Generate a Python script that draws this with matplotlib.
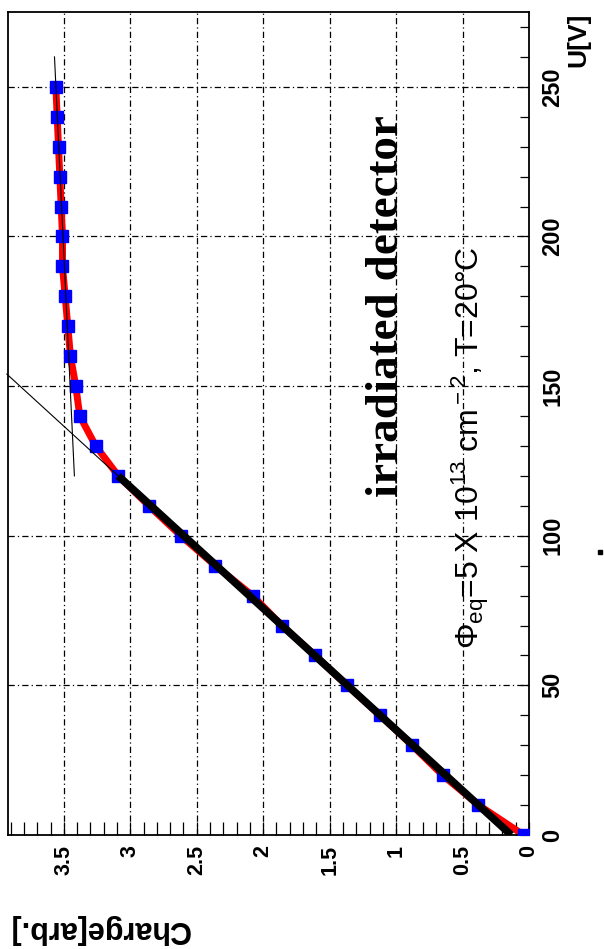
import numpy as np
import matplotlib.pyplot as plt
from matplotlib.ticker import MultipleLocator
from matplotlib.lines import Line2D

# Measured points: bias voltage [V] and collected charge [arb.]
voltage = [0, 10, 20, 30, 40, 50, 60, 70, 80, 90, 100, 110, 120,
           130, 140, 150, 160, 170, 180, 190, 200, 210, 220, 230, 240, 250]
charge = [0.04, 0.38, 0.65, 0.88, 1.12, 1.37, 1.61, 1.86, 2.08, 2.36, 2.62, 2.86, 3.09,
          3.26, 3.38, 3.41, 3.45, 3.47, 3.49, 3.51, 3.51, 3.52, 3.53, 3.54, 3.55, 3.56]

# Linear fit of the rising part (charge = a + b*U)
rise_a = 0.134
rise_b = 0.02464
rise_range = [0, 120]
rise_extend = [120, 154]
# Plateau fit
plat_a = 3.292
plat_b = 0.00107
plat_range = [120, 260]

# Axis ranges
q_max = 3.92
u_max = 275

sans = ['Liberation Sans', 'DejaVu Sans']
serif = ['Liberation Serif', 'DejaVu Serif']
plt.rcParams['mathtext.fontset'] = 'custom'
plt.rcParams['mathtext.rm'] = 'Liberation Sans'
plt.rcParams['mathtext.it'] = 'Liberation Sans:italic'
plt.rcParams['mathtext.bf'] = 'Liberation Sans:bold'

fig = plt.figure(figsize=(6.04, 9.49), dpi=100)
W, H = 604, 949
ax = fig.add_axes([8 / W, 1 - 835 / H, (529 - 8) / W, (835 - 12) / H])

# Plot is a ROOT canvas turned on its side: charge runs right->left, voltage upward
ax.set_xlim(q_max, 0)
ax.set_ylim(0, u_max)

grid_style = (0, (5, 2.5, 1, 2.5))
for q in [0.5, 1.0, 1.5, 2.0, 2.5, 3.0, 3.5]:
    ax.axvline(q, color='black', lw=0.9, ls=grid_style, zorder=1)
for u in [50, 100, 150, 200, 250]:
    ax.axhline(u, color='black', lw=0.9, ls=grid_style, zorder=1)

# Data: red line, blue squares
ax.plot(charge, voltage, color='red', lw=5, zorder=2)
ax.plot(charge, voltage, ls='none', marker='s', ms=9, color='blue',
        markeredgecolor='blue', zorder=3)

# Fit lines
u = np.array(rise_range)
ax.plot(rise_a + rise_b * u, u, color='black', lw=5.5, zorder=4,
        solid_capstyle='butt')
u = np.array(rise_extend)
ax.plot(rise_a + rise_b * u, u, color='black', lw=0.8, zorder=4, clip_on=False)
u = np.array(plat_range)
ax.plot(plat_a + plat_b * u, u, color='black', lw=0.8, zorder=4)

# Ticks
ax.xaxis.set_major_locator(MultipleLocator(0.5))
ax.xaxis.set_minor_locator(MultipleLocator(0.1))
ax.yaxis.set_major_locator(MultipleLocator(50))
ax.yaxis.set_minor_locator(MultipleLocator(10))
ax.xaxis.set_major_formatter(lambda v, p: '0' if v == 0 else ('%g' % v))
ax.tick_params(axis='x', which='both', direction='in', bottom=True, top=False,
               length=9.5, width=0.9, pad=7)
ax.tick_params(axis='y', which='both', direction='in', left=False, right=True,
               labelleft=False, labelright=True, length=6.5, width=0.9, pad=9)
for lab in ax.get_xticklabels():
    lab.set_rotation(90)
    lab.set_va('top')
    lab.set_ha('center')
    lab.set_family(sans)
    lab.set_fontweight('bold')
    lab.set_fontsize(15.5)
for lab in ax.get_yticklabels():
    lab.set_rotation(90)
    lab.set_va('center')
    lab.set_ha('left')
    lab.set_family(sans)
    lab.set_fontweight('bold')
    lab.set_fontsize(17)

for s in ax.spines.values():
    s.set_linewidth(1.3)

# Annotations
ax.text(0.985, 113, 'irradiated detector', rotation=90, rotation_mode='anchor',
        ha='left', va='baseline', family=serif, fontweight='bold', fontsize=34)
ax.text(0.38, 62, r'$\Phi_{\rm eq}$=5 X 10$^{\rm 13}$ cm$^{\rm -2}$, T=20°C', rotation=90,
        rotation_mode='anchor', ha='left', va='baseline', family=sans, fontsize=23)

# Axis titles
fig.text(190 / W, 1 - 921 / H, 'Charge[arb.]', rotation=180, rotation_mode='anchor',
         ha='left', va='baseline', family=sans, fontweight='bold', fontsize=22)
fig.text(585 / W, 1 - 13 / H, 'U[V]', rotation=90, rotation_mode='anchor',
         ha='right', va='baseline', family=sans, fontweight='bold', fontsize=19)

# small stray mark at right edge of the canvas
fig.add_artist(Line2D([600 / W], [1 - 552 / H], marker='s', ms=3, color='black'))

fig.savefig('out.png', dpi=100)
